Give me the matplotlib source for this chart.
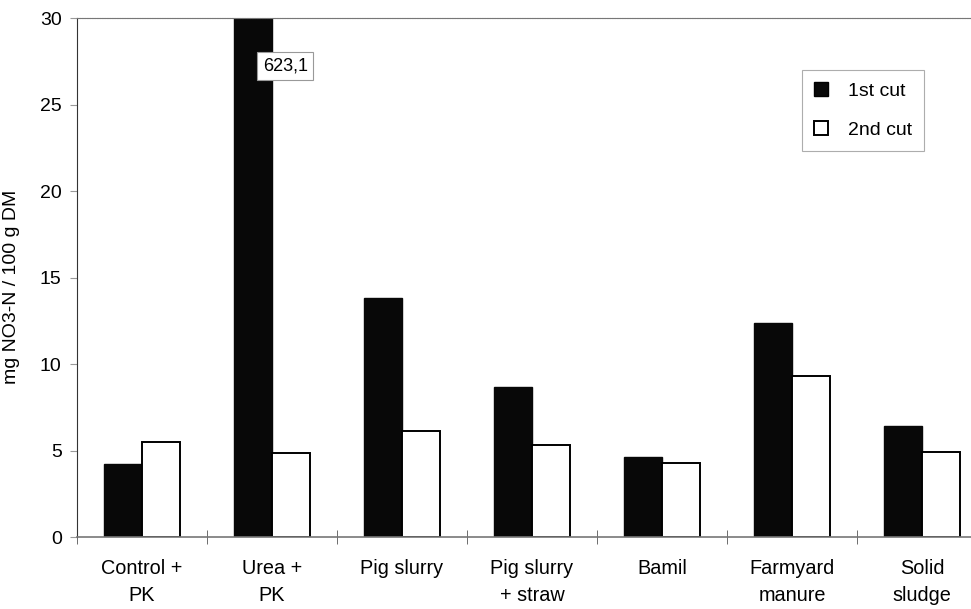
import matplotlib.pyplot as plt
from matplotlib.patches import Patch

plt.rcParams['font.family'] = ['Liberation Sans', 'DejaVu Sans']

categories = ['Control +\nPK', 'Urea +\nPK', 'Pig slurry', 'Pig slurry\n+ straw',
              'Bamil', 'Farmyard\nmanure', 'Solid\nsludge']
cut1 = [4.2, 623.1, 13.8, 8.7, 4.6, 12.4, 6.4]
cut2 = [5.5, 4.85, 6.1, 5.3, 4.3, 9.3, 4.9]

fig = plt.figure(figsize=(9.71, 6.09), dpi=100)
ax = fig.add_axes([0.0793, 0.1182, 0.9372, 0.8522])

x = list(range(len(categories)))
w = 0.29
ax.bar([i - w / 2 for i in x], cut1, width=w, color='#080808', edgecolor='#080808', linewidth=1)
ax.bar([i + w / 2 for i in x], cut2, width=w, color='white', edgecolor='black', linewidth=1.4)

ax.set_ylim(0, 30)
ax.set_xlim(-0.5, len(categories) - 0.5)
ax.set_yticks([0, 5, 10, 15, 20, 25, 30])
ax.tick_params(axis='y', labelsize=14, length=5, color='#999999', pad=6)
ax.set_xticks(x)
ax.set_xticklabels(categories, fontsize=14.3, linespacing=1.55)
ax.tick_params(axis='x', which='major', length=0, pad=16)
ax.set_xticks([i - 0.5 for i in range(len(categories) + 1)], minor=True)
ax.tick_params(axis='x', which='minor', length=10, direction='inout', color='#555555')
ax.set_ylabel('mg NO3-N / 100 g DM', fontsize=14)
ax.yaxis.set_label_coords(-0.0626, 0.482)

ax.spines['right'].set_visible(False)
ax.spines['top'].set_color('#777777')
ax.spines['top'].set_linestyle((0, (1, 0.5)))
ax.spines['bottom'].set_color('#777777')
ax.spines['bottom'].set_linewidth(1.2)
ax.spines['left'].set_color('#333333')

# value of the bar cut off at the top
ax.text(0.93, 27.25, ('%.1f' % cut1[1]).replace('.', ','), fontsize=13, ha='left', va='center',
        bbox=dict(boxstyle='square,pad=0.3', facecolor='white', edgecolor='#999999', linewidth=0.8))

handles = [Patch(facecolor='#080808', edgecolor='black'),
           Patch(facecolor='white', edgecolor='black', linewidth=1.4)]
leg = fig.legend(handles, ['1st cut', '2nd cut'], loc='upper left',
                 bbox_to_anchor=(0.826, 0.885), fontsize=14, frameon=True,
                 fancybox=False, edgecolor='#999999', handlelength=0.75, handleheight=0.75,
                 labelspacing=1.1, borderpad=0.6, handletextpad=1.0, borderaxespad=0)
leg.get_frame().set_linewidth(0.8)

fig.savefig('out.png', dpi=100)
